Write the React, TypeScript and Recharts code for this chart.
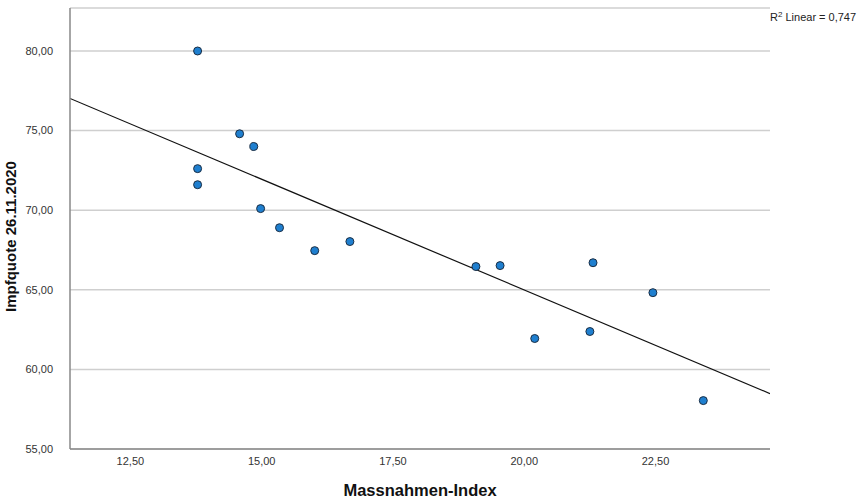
import React from "react";
import {
  ScatterChart,
  Scatter,
  XAxis,
  YAxis,
  CartesianGrid,
  Line,
  ComposedChart,
} from "recharts";

const massnahmenIndex = [
  13.78, 13.78, 13.78, 14.58, 14.85, 14.98, 15.34, 16.01, 16.68, 19.08, 19.54,
  20.2, 21.25, 21.31, 22.45, 23.41,
];
const impfquote = [
  80.0, 72.61, 71.6, 74.8, 74.0, 70.1, 68.9, 67.46, 68.03, 66.46, 66.52, 61.94,
  62.38, 66.7, 64.82, 58.04,
];
const fitX = [11.35, 24.68];
const fitY = [77.02, 58.48];
const xTicks = [12.5, 15, 17.5, 20, 22.5];
const yTicks = [55, 60, 65, 70, 75, 80];
const xDomain = [11.35, 24.68];
const yDomain = [55, 82.7];
const r2Label = "0,747";

const points = massnahmenIndex.map((x, i) => ({ x, y: impfquote[i] }));
const fitLine = fitX.map((x, i) => ({ x, fy: fitY[i] }));

const fmt = (v: number) => v.toFixed(2).replace(".", ",");

const Dot = (props: any) => {
  const { cx, cy } = props;
  return (
    <circle cx={cx} cy={cy} r={4} fill="#1f7fcf" stroke="#1b2e44" strokeWidth={1} />
  );
};

export default function App() {
  return (
    <div style={{ position: "absolute", left: 0, top: 0, width: 860, height: 501, background: "#fff" }}>
      <ComposedChart
        width={860}
        height={501}
        margin={{ top: 8, right: 90, bottom: 0, left: 0 }}
        style={{ fontFamily: "'Liberation Sans', Arial, sans-serif" }}
      >
        <CartesianGrid horizontal={true} vertical={false} stroke="#cfcfcf" strokeWidth={1.5} />
        <XAxis
          type="number"
          dataKey="x"
          domain={xDomain}
          ticks={xTicks}
          tickFormatter={fmt}
          allowDataOverflow
          height={52}
          tickLine={false}
          tickSize={0}
          tickMargin={8}
          axisLine={{ stroke: "#888", strokeWidth: 1.5 }}
          tick={{ fill: "#333", fontSize: 11 }}
          label={{
            value: "Massnahmen-Index",
            position: "insideBottom",
            offset: 5,
            style: { fill: "#111", fontSize: 16.5, fontWeight: "bold" },
          }}
        />
        <YAxis
          type="number"
          dataKey="y"
          domain={yDomain}
          ticks={yTicks}
          tickFormatter={fmt}
          allowDataOverflow
          width={70}
          tickLine={false}
          tickSize={0}
          tickMargin={17}
          axisLine={{ stroke: "#888", strokeWidth: 1.5 }}
          tick={{ fill: "#333", fontSize: 11 }}
          label={{
            value: "Impfquote 26.11.2020",
            angle: -90,
            position: "insideLeft",
            offset: 0,
            dx: 11,
            dy: 8,
            style: { fill: "#111", fontSize: 15, fontWeight: "bold", textAnchor: "middle" },
          }}
        />
        <Line
          data={fitLine}
          dataKey="fy"
          type="linear"
          stroke="#111"
          strokeWidth={1.2}
          dot={false}
          activeDot={false}
          isAnimationActive={false}
        />
        <Scatter data={points} dataKey="y" shape={<Dot />} isAnimationActive={false} />
        <text x={770} y={21} fontSize={11} fill="#222" fontFamily="'Liberation Sans', Arial, sans-serif">
          R
          <tspan dy={-4} fontSize={8}>2</tspan>
          <tspan dy={4}> Linear = {r2Label}</tspan>
        </text>
      </ComposedChart>
    </div>
  );
}
